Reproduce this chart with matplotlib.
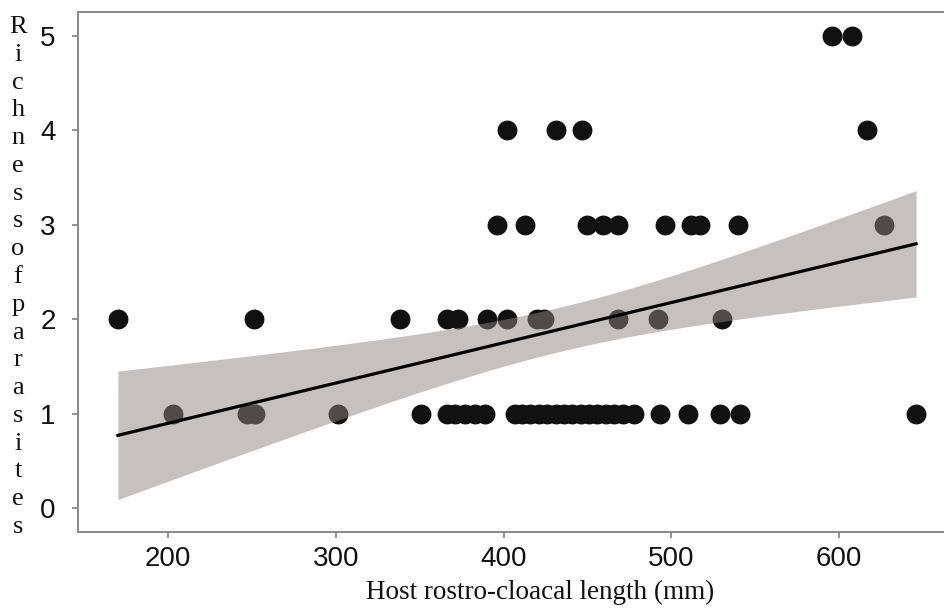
import numpy as np
import matplotlib
matplotlib.use("Agg")
import matplotlib.pyplot as plt

# ---- data ----
x5 = [596, 608]
x4 = [402, 431, 447, 617]
x3 = [396, 413, 450, 459, 468, 496, 512, 517, 540, 627]
x2 = [170, 251, 338, 366, 373, 390, 402, 420, 424, 468, 492, 530]
x1 = [203, 247, 252, 301, 351, 366, 371, 377, 383, 389,
      407, 411, 416, 421, 426, 431, 436, 441, 446, 451, 456, 461, 466, 471, 478,
      493, 510, 529, 541, 646]

x_ticks = [200, 300, 400, 500, 600]
y_ticks = [0, 1, 2, 3, 4, 5]
x_label = "Host rostro-cloacal length (mm)"
y_label = "Richness of parasites"

xs = np.array(x5 + x4 + x3 + x2 + x1, dtype=float)
ys = np.array([5] * len(x5) + [4] * len(x4) + [3] * len(x3) + [2] * len(x2) + [1] * len(x1), dtype=float)

# ---- linear fit with confidence band ----
n = len(xs)
b, a = np.polyfit(xs, ys, 1)
resid = ys - (a + b * xs)
s = np.sqrt(np.sum(resid ** 2) / (n - 2))
xm = xs.mean()
sxx = np.sum((xs - xm) ** 2)
tq = 1.672  # t quantile (0.95, df ~ 56) -> 90% band
xg = np.linspace(xs.min(), xs.max(), 200)
yg = a + b * xg
se = s * np.sqrt(1.0 / n + (xg - xm) ** 2 / sxx)

fig = plt.figure(figsize=(9.45, 6.11), dpi=100)
ax = fig.add_axes([78 / 945, 1 - 532 / 611, (956 - 78) / 945, (532 - 12) / 611])

ax.scatter(xs, ys, s=205, color="#111111", linewidths=0, zorder=2)
ax.fill_between(xg, yg - tq * se, yg + tq * se, color="#8f857b", alpha=0.5,
                linewidth=0, zorder=3)
ax.plot(xg, yg, color="black", linewidth=2.3, zorder=4)

ax.set_xlim(146.2, 669.8)
ax.set_ylim(-0.25, 5.25)
ax.set_xticks(x_ticks)
ax.set_yticks(y_ticks)
ax.tick_params(axis="both", colors="#7f7f7f", length=4, width=1.2,
               labelcolor="#111111", labelsize=20)
ax.tick_params(axis="x", pad=6)
ax.tick_params(axis="y", pad=12)
for lab in ax.get_xticklabels() + ax.get_yticklabels():
    lab.set_family("Liberation Sans")
for sp in ax.spines.values():
    sp.set_color("#7f7f7f")
    sp.set_linewidth(1.3)

fig.text(540 / 945, 1 - 592 / 611, x_label, ha="center", va="center",
         family="Liberation Serif", fontsize=19.5, color="#111111")

letters = "\n".join(ch for ch in y_label if ch != " ")
fig.text(18 / 945, 1 - 277 / 611, letters, ha="center", va="center",
         family="Liberation Serif", fontsize=19, color="#111111",
         linespacing=1.34)

fig.savefig("out.png", dpi=100)
